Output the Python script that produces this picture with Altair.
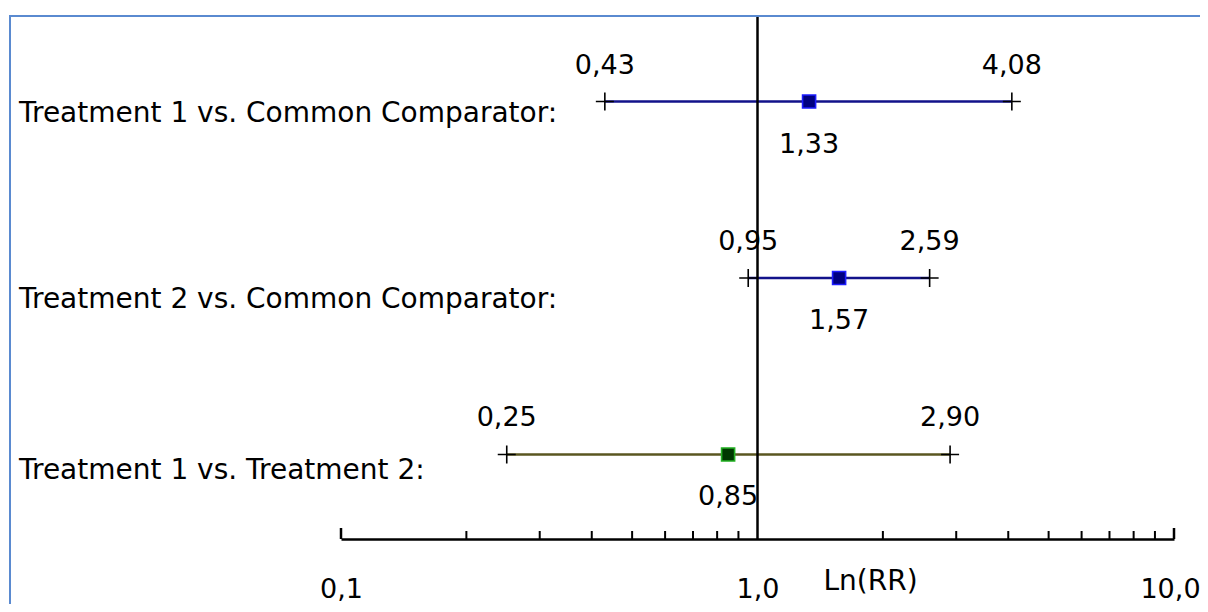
import altair as alt
import pandas as pd

# ---- data ----
rows = [
    "Treatment 1 vs. Common Comparator:",
    "Treatment 2 vs. Common Comparator:",
    "Treatment 1 vs. Treatment 2:",
]
estimate = [1.33, 1.57, 0.85]
lower = [0.43, 0.95, 0.25]
upper = [4.08, 2.59, 2.90]

axis_values = [0.1, 1.0, 10.0]
minor_ticks = [0.2, 0.3, 0.4, 0.5, 0.6, 0.7, 0.8, 0.9, 2, 3, 4, 5, 6, 7, 8, 9]
major_ticks = [0.1, 10.0]

line_colors = ["#12128a", "#12128a", "#5a5620"]
square_fill = ["#000080", "#000080", "#003800"]
square_stroke = ["#1c1cff", "#1c1cff", "#22b022"]

FONT = "DejaVu Sans"
BORDER = "#5a8ad0"

W, H = 833, 522
PAD = {"left": 333, "top": 9, "right": 26, "bottom": 65}

df = pd.DataFrame({"row": rows, "est": estimate, "lo": lower, "hi": upper})
ticks_minor = pd.DataFrame({"v": minor_ticks})
ticks_major = pd.DataFrame({"v": major_ticks})

xscale = alt.Scale(type="log", domain=[0.1, 10], nice=False)
yenc = alt.Y("row:N", sort=rows, scale=alt.Scale(type="point", domain=rows, padding=0.479), axis=None)

base = alt.Chart(df)

ci = base.mark_rule(strokeWidth=2.6).encode(
    x=alt.X(
        "lo:Q",
        scale=xscale,
        axis=alt.Axis(
            values=axis_values,
            labelExpr="replace(format(datum.value, '.1f'), '.', ',')",
            ticks=False,
            tickSize=0,
            grid=False,
            domain=True,
            domainColor="black",
            domainWidth=2.5,
            labelFont=FONT,
            labelFontSize=27,
            labelColor="black",
            labelBaseline="alphabetic",
            labelPadding=58,
            labelOffset={"condition": {"test": "datum.value >= 10", "value": -4}, "value": 0},
            labelFlush=False,
            labelOverlap=False,
            title="Ln(RR)",
            titleFont=FONT,
            titleFontSize=28,
            titleFontWeight="normal",
            titleColor="black",
            titleX=529,
            titleY=50,
            titleAlign="center",
            titleBaseline="alphabetic",
        ),
    ),
    x2="hi:Q",
    y=yenc,
    color=alt.Color("row:N", scale=alt.Scale(domain=rows, range=line_colors), legend=None),
)

ref = alt.Chart(pd.DataFrame({"one": [1.0]})).mark_rule(color="black", strokeWidth=2.5).encode(
    x=alt.X("one:Q", scale=xscale)
)

crosses = base.transform_fold(["lo", "hi"], as_=["end", "val"]).mark_point(
    shape="M-1,0L1,0M0,-1L0,1", size=324, filled=False, color="black", strokeWidth=1.6, opacity=1
).encode(x=alt.X("val:Q", scale=xscale), y=yenc)

squares = base.mark_point(shape="square", filled=True, size=170, strokeWidth=1.6, opacity=1).encode(
    x=alt.X("est:Q", scale=xscale),
    y=yenc,
    fill=alt.Fill("row:N", scale=alt.Scale(domain=rows, range=square_fill), legend=None),
    stroke=alt.Stroke("row:N", scale=alt.Scale(domain=rows, range=square_stroke), legend=None),
)

end_labels = base.transform_fold(["lo", "hi"], as_=["end", "val"]).transform_calculate(
    lab="replace(format(datum.val, '.2f'), '.', ',')"
).mark_text(font=FONT, fontSize=27, color="black", baseline="alphabetic", align="center", dy=-28).encode(
    x=alt.X("val:Q", scale=xscale), y=yenc, text="lab:N"
)

est_labels = base.transform_calculate(
    lab="replace(format(datum.est, '.2f'), '.', ',')"
).mark_text(font=FONT, fontSize=27, color="black", baseline="alphabetic", align="center", dy=51).encode(
    x=alt.X("est:Q", scale=xscale), y=yenc, text="lab:N"
)

row_dy = [20, 30, 25]
row_labels = []
for name, dy in zip(rows, row_dy):
    row_labels.append(
        base.transform_filter(alt.datum.row == name)
        .mark_text(font=FONT, fontSize=28, color="black", baseline="alphabetic", align="left", dy=dy)
        .encode(x=alt.value(-322), y=yenc, text="row:N")
    )

minor = alt.Chart(ticks_minor).mark_rule(color="black", strokeWidth=2).encode(
    x=alt.X("v:Q", scale=xscale), y=alt.value(H - 8), y2=alt.value(H)
)
major = alt.Chart(ticks_major).mark_rule(color="black", strokeWidth=2.5).encode(
    x=alt.X("v:Q", scale=xscale), y=alt.value(H - 11), y2=alt.value(H)
)

one = alt.Data(values=[{"k": 1}])
border_top = alt.Chart(one).mark_rule(color=BORDER, strokeWidth=2).encode(
    x=alt.value(-PAD["left"] + 1), x2=alt.value(W + PAD["right"] + 10), y=alt.value(-1)
)
border_left = alt.Chart(one).mark_rule(color=BORDER, strokeWidth=2).encode(
    x=alt.value(-331), y=alt.value(-2), y2=alt.value(H + PAD["bottom"] + 10)
)

chart = alt.layer(
    ci, ref, crosses, squares, end_labels, est_labels, *row_labels, minor, major, border_top, border_left
).properties(
    width=W,
    height=H,
    padding=PAD,
    autosize=alt.AutoSizeParams(type="none"),
    background="white",
).configure_view(strokeWidth=0)

chart.save("out.html", embed_options={"renderer": "svg", "actions": False})
